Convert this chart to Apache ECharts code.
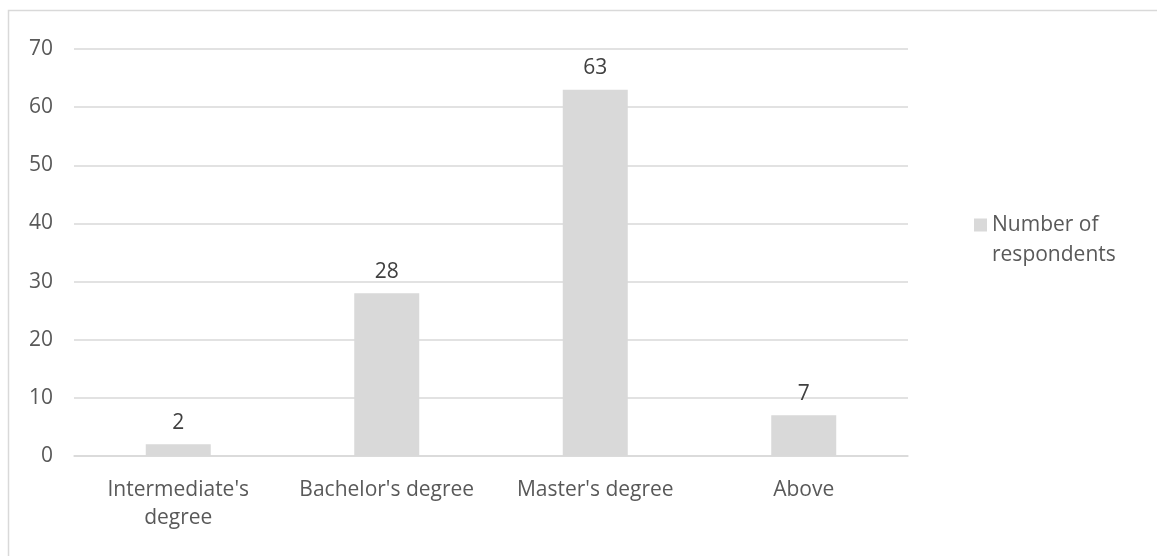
<!DOCTYPE html>
<html>
<head>
<meta charset="utf-8">
<style>
  html, body { margin: 0; padding: 0; background: #fff; }
  #chart { width: 1157px; height: 556px; }
</style>
<script src="https://cdn.jsdelivr.net/npm/echarts@6/dist/echarts.min.js"></script>
</head>
<body>
<div id="chart"></div>
<script>
// Education level of respondents
const categories = ["Intermediate's\ndegree", "Bachelor's degree", "Master's degree", "Above"];
const respondents = [2, 28, 63, 7];
const seriesName = "Number of\nrespondents";

const textColor = '#595959';
const fontFamily = '"Open Sans", "Noto Sans", sans-serif';
const fontSize = 21;

const chart = echarts.init(document.getElementById('chart'), null, { renderer: 'canvas' });
chart.setOption({
  animation: false,
  backgroundColor: '#ffffff',
  textStyle: { fontFamily: fontFamily, color: textColor },
  // outer chart-area frame, open to the right and bottom edges
  graphic: [{
    type: 'rect',
    shape: { x: 8.5, y: 10.5, width: 1200, height: 600 },
    style: { fill: 'none', stroke: '#d9d9d9', lineWidth: 1.5 },
    silent: true
  }],
  legend: {
    orient: 'vertical',
    left: 969,
    top: 175,
    itemWidth: 13,
    itemHeight: 13,
    icon: 'rect',
    // a leading blank line keeps the swatch level with the first line of the name
    formatter: name => '\n' + name,
    textStyle: {
      fontSize: fontSize,
      color: textColor,
      fontFamily: fontFamily,
      lineHeight: 30
    },
    data: [seriesName]
  },
  grid: { left: 74, right: 249, top: 49, bottom: 100, containLabel: false },
  xAxis: {
    type: 'category',
    data: categories,
    axisLine: { show: true, lineStyle: { color: '#d9d9d9', width: 1.5 } },
    axisTick: { show: false },
    axisLabel: {
      fontSize: fontSize, color: textColor, fontFamily: fontFamily,
      margin: 20, lineHeight: 28, interval: 0
    }
  },
  yAxis: {
    type: 'value',
    min: 0,
    max: 70,
    interval: 10,
    axisLine: { show: false },
    axisTick: { show: false },
    splitLine: { lineStyle: { color: '#d9d9d9', width: 1.5 } },
    axisLabel: { fontSize: fontSize, color: textColor, fontFamily: fontFamily, margin: 21 }
  },
  series: [{
    name: seriesName,
    type: 'bar',
    data: respondents,
    barWidth: 65,
    itemStyle: { color: '#d9d9d9' },
    label: {
      show: true,
      position: 'top',
      distance: 11,
      fontSize: fontSize,
      color: '#404040',
      fontFamily: fontFamily
    }
  }]
});
</script>
</body>
</html>
